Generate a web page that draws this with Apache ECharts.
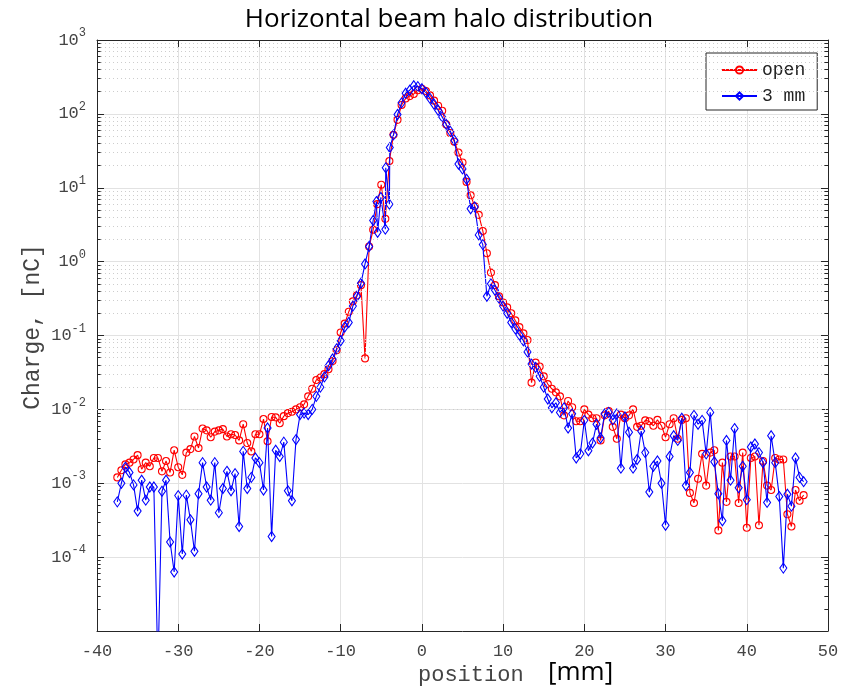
<!DOCTYPE html>
<html>
<head>
<meta charset="utf-8">
<title>Horizontal beam halo distribution</title>
<script src="https://cdn.jsdelivr.net/npm/echarts@6.0.0/dist/echarts.min.js"></script>
<style>
    html, body { margin: 0; padding: 0; background: #fff; }
    #chart { width: 850px; height: 695px; }
</style>
</head>
<body>
<div id="chart"></div>
<script>
// x positions of the "open" scan, mm
const openPos = [
    -37.5, -37, -36.5, -36, -35.5, -35, -34.5, -34, -33.5, -33,
    -32.5, -32, -31.5, -31, -30.5, -30, -29.5, -29, -28.5, -28,
    -27.5, -27, -26.5, -26, -25.5, -25, -24.5, -24, -23.5, -23,
    -22.5, -22, -21.5, -21, -20.5, -20, -19.5, -19, -18.5, -18,
    -17.5, -17, -16.5, -16, -15.5, -15, -14.5, -14, -13.5, -13,
    -12.5, -12, -11.5, -11, -10.5, -10, -9.5, -9, -8.5, -8,
    -7.5, -7, -6.5, -6, -5.5, -5, -4.5, -4, -3.5, -3,
    -2.5, -2, -1.5, -1, -0.5, 0, 0.5, 1, 1.5, 2,
    2.5, 3, 3.5, 4, 4.5, 5, 5.5, 6, 6.5, 7,
    7.5, 8, 8.5, 9, 9.5, 10, 10.5, 11, 11.5, 12,
    12.5, 13, 13.5, 14, 14.5, 15, 15.5, 16, 16.5, 17,
    17.5, 18, 18.5, 19, 19.5, 20, 20.5, 21, 21.5, 22,
    22.5, 23, 23.5, 24, 24.5, 25, 25.5, 26, 26.5, 27,
    27.5, 28, 28.5, 29, 29.5, 30, 30.5, 31, 31.5, 32,
    32.5, 33, 33.5, 34, 34.5, 35, 35.5, 36, 36.5, 37,
    37.5, 38, 38.5, 39, 39.5, 40, 40.5, 41, 41.5, 42,
    42.5, 43, 43.5, 44, 44.5, 45, 45.5, 46, 46.5, 47
];
// charge, nC ("open")
const openCharge = [
    1.2e-3, 1.5e-3, 1.8e-3, 1.9e-3, 2.1e-3, 2.4e-3, 1.55e-3, 1.9e-3, 1.7e-3, 2.2e-3,
    2.2e-3, 1.45e-3, 2.0e-3, 1.4e-3, 2.8e-3, 1.65e-3, 1.3e-3, 2.6e-3, 2.9e-3, 4.3e-3,
    3.0e-3, 5.5e-3, 5.2e-3, 4.2e-3, 5.0e-3, 5.2e-3, 5.4e-3, 4.3e-3, 4.6e-3, 4.5e-3,
    3.8e-3, 6.3e-3, 3.5e-3, 2.7e-3, 4.6e-3, 4.6e-3, 7.4e-3, 3.7e-3, 7.9e-3, 7.8e-3,
    6.5e-3, 8.1e-3, 8.9e-3, 9.3e-3, 1.0e-2, 1.07e-2, 1.17e-2, 1.5e-2, 1.9e-2, 2.5e-2,
    2.7e-2, 3.0e-2, 3.5e-2, 4.5e-2, 6.3e-2, 0.11, 0.145, 0.21, 0.29, 0.35,
    0.48, 0.049, 1.6, 2.7, 6.0, 11, 3.8, 23, 52, 83,
    132, 162, 174, 186, 209, 219, 204, 178, 151, 129,
    110, 72, 55, 42, 30, 22, 12, 7.9, 5.6, 4.3,
    2.6, 1.3, 0.71, 0.48, 0.34, 0.28, 0.24, 0.20, 0.16, 0.13,
    0.107, 0.087, 0.023, 0.043, 0.038, 0.028, 0.022, 0.019, 0.017, 0.015,
    8.3e-3, 0.013, 0.0107, 6.9e-3, 6.9e-3, 0.01, 8.5e-3, 7.6e-3, 7.6e-3, 3.8e-3,
    8.3e-3, 9.5e-3, 5.8e-3, 4.0e-3, 8.5e-3, 7.6e-3, 8.3e-3, 0.01, 5.8e-3, 6.0e-3,
    7.1e-3, 6.9e-3, 6.0e-3, 7.2e-3, 6.0e-3, 4.2e-3, 6.3e-3, 7.6e-3, 4.0e-3, 7.2e-3,
    7.6e-3, 7.4e-4, 5.4e-4, 1.15e-3, 2.5e-3, 9.3e-4, 2.6e-3, 2.8e-3, 2.3e-4, 1.9e-3,
    5.6e-4, 2.3e-3, 2.3e-3, 5.4e-4, 2.6e-3, 2.5e-4, 2.2e-3, 2.3e-3, 2.7e-4, 2.0e-3,
    9.3e-4, 8.1e-4, 2.2e-3, 2.1e-3, 2.1e-3, 3.8e-4, 2.6e-4, 8.1e-4, 5.8e-4, 6.9e-4
];

// x positions of the "3 mm" scan, mm
const slitPos = [
    -37.5, -37, -36.5, -36, -35.5, -35, -34.5, -34, -33.5, -33,
    -32.5, -32, -31.5, -31, -30.5, -30, -29.5, -29, -28.5, -28,
    -27.5, -27, -26.5, -26, -25.5, -25, -24.5, -24, -23.5, -23,
    -22.5, -22, -21.5, -21, -20.5, -20, -19.5, -19, -18.5, -18,
    -17.5, -17, -16.5, -16, -15.5, -15, -14.5, -14, -13.5, -13,
    -12.5, -12, -11.5, -11, -10.5, -10, -9.5, -9, -8.5, -8,
    -7.5, -7, -6.5, -6, -5.6, -5.45, -5.05, -4.5, -4.45, -4,
    -3.95, -3.5, -3, -2.5, -2, -1.5, -1, -0.5, 0, 0.5,
    1, 1.5, 2, 2.5, 3, 3.5, 4, 4.5, 5, 5.5,
    6, 6.5, 7, 7.5, 8, 8.5, 9, 9.5, 10, 10.5,
    11, 11.5, 12, 12.5, 13, 13.5, 14, 14.5, 15, 15.5,
    16, 16.5, 17, 17.5, 18, 18.5, 19, 19.5, 20, 20.5,
    21, 21.5, 22, 22.5, 23, 23.5, 24, 24.5, 25, 25.5,
    26, 26.5, 27, 27.5, 28, 28.5, 29, 29.5, 30, 30.5,
    31, 31.5, 32, 32.5, 33, 33.5, 34, 34.5, 35, 35.5,
    36, 36.5, 37, 37.5, 38, 38.5, 39, 39.5, 40, 40.5,
    41, 41.5, 42, 42.5, 43, 43.5, 44, 44.5, 45, 45.5,
    46, 46.5, 47
];
// charge, nC ("3 mm")
const slitCharge = [
    5.6e-4, 1.0e-3, 1.65e-3, 1.4e-3, 9.5e-4, 4.2e-4, 1.1e-3, 5.9e-4, 8.9e-4, 8.9e-4,
    3e-6, 7.8e-4, 1.1e-3, 1.6e-4, 6.3e-5, 6.8e-4, 1.1e-4, 6.9e-4, 3.2e-4, 1.2e-4,
    7.2e-4, 1.9e-3, 8.9e-4, 5.9e-4, 1.9e-3, 4.0e-4, 8.5e-4, 1.45e-3, 7.9e-4, 1.35e-3,
    2.6e-4, 2.7e-3, 8.5e-4, 1.2e-3, 2.2e-3, 1.9e-3, 8.1e-4, 5.6e-3, 1.9e-4, 2.8e-3,
    2.3e-3, 3.6e-3, 7.9e-4, 5.8e-4, 3.9e-3, 8.5e-3, 8.9e-3, 8.5e-3, 1.0e-2, 1.5e-2,
    2.0e-2, 2.75e-2, 3.9e-2, 4.8e-2, 6.6e-2, 8.5e-2, 0.13, 0.15, 0.25, 0.34,
    0.51, 0.93, 1.6, 3.6, 6.5, 2.5, 7.4, 2.75, 18.6, 6.0,
    35, 52, 98, 141, 190, 209, 240, 234, 219, 195,
    162, 135, 112, 91, 72, 58, 44, 21, 18, 13,
    5.2, 5.5, 2.3, 1.7, 0.34, 0.50, 0.41, 0.32, 0.25, 0.20,
    0.15, 0.123, 0.102, 0.085, 0.060, 0.041, 0.037, 0.028, 0.020, 0.0138,
    0.0105, 0.0123, 9.1e-3, 0.0105, 5.6e-3, 8.7e-3, 2.2e-3, 2.5e-3, 7.1e-3, 2.75e-3,
    3.5e-3, 6.3e-3, 4.1e-3, 8.7e-3, 9.1e-3, 7.2e-3, 8.7e-3, 1.6e-3, 7.9e-3, 4.9e-3,
    1.6e-3, 2.1e-3, 5.1e-3, 2.6e-3, 7.6e-4, 1.7e-3, 2.0e-3, 1.0e-3, 2.7e-4, 2.3e-3,
    4.4e-3, 3.8e-3, 7.6e-3, 9.3e-4, 1.4e-3, 8.3e-3, 6.3e-3, 7.1e-3, 2.5e-3, 9.1e-3,
    1.95e-3, 7.2e-4, 3.1e-4, 3.8e-3, 1.1e-3, 5.5e-3, 8.7e-4, 1.7e-3, 6.0e-4, 3.1e-3,
    3.4e-3, 2.6e-3, 1.9e-3, 5.5e-4, 4.4e-3, 1.9e-3, 6.6e-4, 7.1e-5, 7.1e-4, 4.9e-4,
    2.2e-3, 1.2e-3, 1.05e-3
];

const seriesNames = ["open", "3 mm"];
const xTicks = [-40, -30, -20, -10, 0, 10, 20, 30, 40, 50];
const yDecades = [-5, -4, -3, -2, -1, 0, 1, 2, 3];

const xMin = xTicks[0];
const xMax = xTicks[xTicks.length - 1];
const yMin = Math.pow(10, yDecades[0]);
const yMax = Math.pow(10, yDecades[yDecades.length - 1]);

const mono = "'Liberation Mono', 'DejaVu Sans Mono', monospace";
const axisColor = "#262626";
const labelColor = "#444";

// minor decade lines (2..9 x 10^n), like MATLAB's dotted minor grid
const minorVals = [];
for (let i = 0; i < yDecades.length - 1; i++) {
    for (let m = 2; m <= 9; m++) {
        minorVals.push(m * Math.pow(10, yDecades[i]));
    }
}
const minorLines = minorVals.map(v => ({ yAxis: v }));
const minorTicks = [];
minorVals.forEach(v => {
    minorTicks.push([{ coord: [xMin, v] }, { coord: [xMin + 0.45, v] }]);
    minorTicks.push([{ coord: [xMax, v] }, { coord: [xMax - 0.45, v] }]);
});

function logLabel(value) {
    const e = Math.round(Math.log10(value));
    if (e <= yDecades[0]) return "";
    return "{b|10}{e|" + e + "}";
}

const chart = echarts.init(document.getElementById("chart"), null, { renderer: "canvas" });

chart.setOption({
    animation: false,
    backgroundColor: "#fff",
    grid: { left: 97, right: 22, top: 40, bottom: 64, containLabel: false },
    legend: {
        data: seriesNames,
        orient: "vertical",
        left: 706,
        top: 53,
        itemWidth: 35,
        itemHeight: 9,
        itemGap: 8,
        padding: [8, 12, 5, 15],
        borderColor: axisColor,
        borderWidth: 1,
        borderRadius: 0,
        backgroundColor: "#fff",
        textStyle: { fontFamily: mono, fontSize: 18, color: "#222" },
    },
    xAxis: [
        {
            type: "value",
            min: xMin,
            max: xMax,
            interval: 10,
            axisLine: { show: true, onZero: false, lineStyle: { color: axisColor, width: 1 } },
            axisTick: { inside: true, length: 7, lineStyle: { color: axisColor } },
            axisLabel: {
                margin: 12,
                fontFamily: mono,
                fontSize: 17,
                color: labelColor,
                showMinLabel: true,
                showMaxLabel: true,
            },
            splitLine: { show: true, lineStyle: { color: "#e2e2e2", width: 1 } },
        },
        {
            type: "value",
            position: "top",
            min: xMin,
            max: xMax,
            interval: 10,
            axisLine: { show: true, onZero: false, lineStyle: { color: axisColor, width: 1 } },
            axisTick: { inside: true, length: 7, lineStyle: { color: axisColor } },
            axisLabel: { show: false },
            splitLine: { show: false },
        },
    ],
    yAxis: [
        {
            type: "log",
            logBase: 10,
            min: yMin,
            max: yMax,
            interval: 1,
            axisLine: { show: true, onZero: false, lineStyle: { color: axisColor, width: 1 } },
            axisTick: { inside: true, length: 7, lineStyle: { color: axisColor } },
            axisLabel: {
                margin: 11,
                formatter: logLabel,
                showMinLabel: true,
                showMaxLabel: true,
                rich: {
                    b: { fontFamily: mono, fontSize: 17, color: labelColor, lineHeight: 26, verticalAlign: "middle" },
                    e: { fontFamily: mono, fontSize: 12, color: labelColor, lineHeight: 12, verticalAlign: "top" },
                },
            },
            splitLine: { show: true, lineStyle: { color: "#e2e2e2", width: 1 } },
        },
        {
            type: "log",
            logBase: 10,
            position: "right",
            min: yMin,
            max: yMax,
            interval: 1,
            axisLine: { show: true, onZero: false, lineStyle: { color: axisColor, width: 1 } },
            axisTick: { inside: true, length: 7, lineStyle: { color: axisColor } },
            axisLabel: { show: false },
            splitLine: { show: false },
        },
    ],
    graphic: [
        {
            type: "text",
            x: 449,
            y: 20,
            style: {
                text: "Horizontal beam halo distribution",
                font: "26px 'Open Sans', sans-serif",
                fill: "#000",
                align: "center",
                verticalAlign: "middle",
            },
        },
        {
            type: "text",
            x: 418,
            y: 675,
            style: {
                text: "position",
                font: "22px " + mono,
                fill: labelColor,
                align: "left",
                verticalAlign: "middle",
            },
        },
        {
            type: "text",
            x: 548,
            y: 673,
            style: {
                text: "[mm]",
                font: "26px 'Open Sans', sans-serif",
                fill: "#000",
                align: "left",
                verticalAlign: "middle",
            },
        },
        {
            type: "text",
            x: 33,
            y: 327,
            rotation: Math.PI / 2,
            style: {
                text: "Charge, [nC]",
                font: "23px " + mono,
                fill: labelColor,
                align: "center",
                verticalAlign: "middle",
            },
        },
    ],
    series: [
        {
            // minor grid + minor ticks
            name: "minor",
            type: "line",
            data: [],
            silent: true,
            z: 1,
            markLine: {
                silent: true,
                symbol: ["none", "none"],
                label: { show: false },
                emphasis: { disabled: true },
                animation: false,
                data: minorLines.map(d => ({ ...d, lineStyle: { type: [1, 3], color: "#cdcdcd", width: 1 } }))
                    .concat(minorTicks.map(p => [{ ...p[0], lineStyle: { type: "solid", color: axisColor, width: 1 } }, p[1]])),
            },
        },
        {
            name: seriesNames[0],
            type: "line",
            data: openPos.map((x, i) => [x, openCharge[i]]),
            symbol: "circle",
            symbolSize: 7,
            showSymbol: true,
            showAllSymbol: true,
            clip: true,
            z: 3,
            lineStyle: { color: "#ff0000", width: 1.1 },
            itemStyle: { color: "rgba(255,255,255,0)", borderColor: "#ff0000", borderWidth: 1.1 },
            emphasis: { disabled: true },
        },
        {
            name: seriesNames[1],
            type: "line",
            data: slitPos.map((x, i) => [x, slitCharge[i]]),
            symbol: "diamond",
            symbolSize: [7, 10],
            showSymbol: true,
            showAllSymbol: true,
            clip: true,
            z: 4,
            lineStyle: { color: "#0000ff", width: 1.1 },
            itemStyle: { color: "rgba(255,255,255,0)", borderColor: "#0000ff", borderWidth: 1.1 },
            emphasis: { disabled: true },
        },
    ],
});
</script>
</body>
</html>
